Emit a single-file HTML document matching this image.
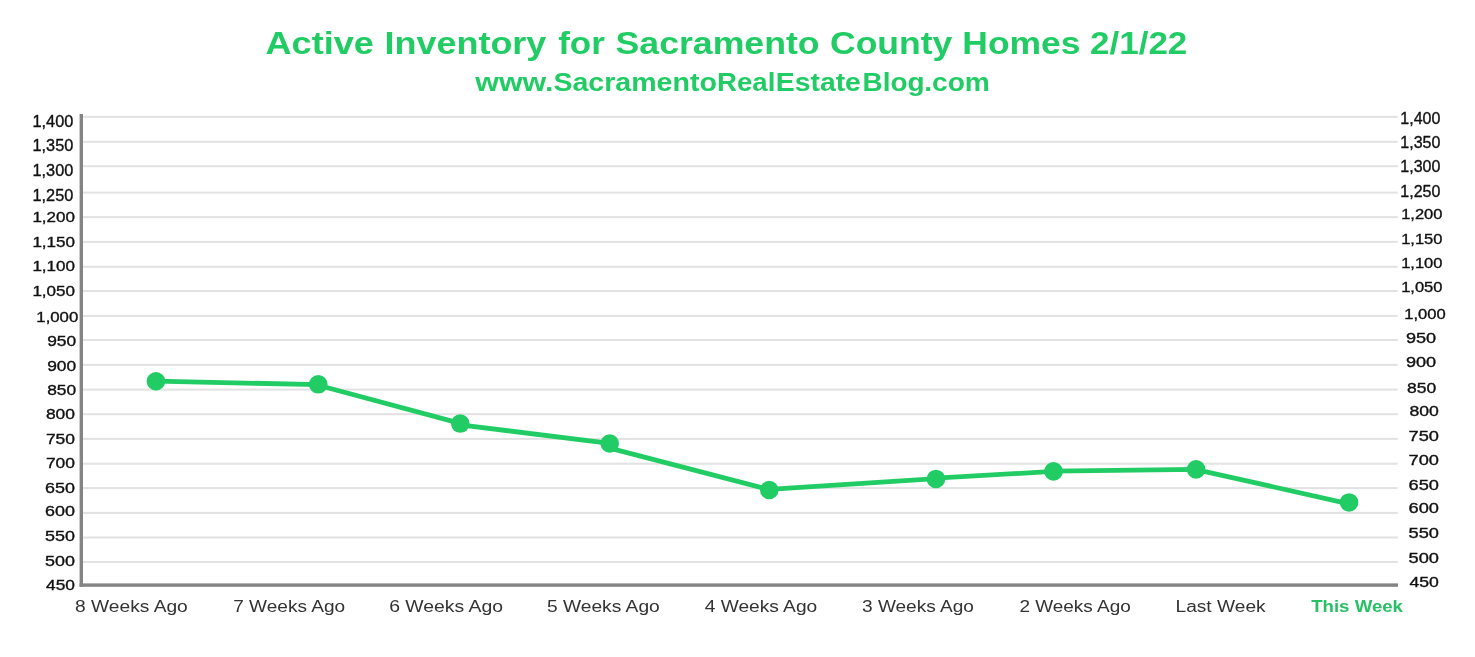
<!DOCTYPE html>
<html><head><meta charset="utf-8"><title>Active Inventory for Sacramento County Homes 2/1/22</title>
<style>
html,body{margin:0;padding:0;background:#fff;}
body{width:1475px;height:657px;overflow:hidden;position:relative;font-family:"Liberation Sans",sans-serif;}
svg{position:absolute;left:0;top:0;display:block;will-change:transform;}
text{font-family:"Liberation Sans",sans-serif;}
</style></head><body>
<svg width="1475" height="657" viewBox="0 0 1475 657">
<rect x="0" y="0" width="1475" height="657" fill="#fff"/>
<rect x="83" y="115.90" width="1314.70" height="2" fill="#e2e2e2"/>
<rect x="83" y="140.80" width="1314.70" height="2" fill="#e2e2e2"/>
<rect x="83" y="165.20" width="1314.70" height="2" fill="#e2e2e2"/>
<rect x="83" y="191.60" width="1314.70" height="2" fill="#e2e2e2"/>
<rect x="83" y="216.10" width="1314.70" height="2" fill="#e2e2e2"/>
<rect x="83" y="240.90" width="1314.70" height="2" fill="#e2e2e2"/>
<rect x="83" y="265.80" width="1314.70" height="2" fill="#e2e2e2"/>
<rect x="83" y="290.00" width="1314.70" height="2" fill="#e2e2e2"/>
<rect x="83" y="314.90" width="1314.70" height="2" fill="#e2e2e2"/>
<rect x="83" y="339.00" width="1314.70" height="2" fill="#e2e2e2"/>
<rect x="83" y="363.90" width="1314.70" height="2" fill="#e2e2e2"/>
<rect x="83" y="388.60" width="1314.70" height="2" fill="#e2e2e2"/>
<rect x="83" y="413.20" width="1314.70" height="2" fill="#e2e2e2"/>
<rect x="83" y="437.90" width="1314.70" height="2" fill="#e2e2e2"/>
<rect x="83" y="462.70" width="1314.70" height="2" fill="#e2e2e2"/>
<rect x="83" y="487.10" width="1314.70" height="2" fill="#e2e2e2"/>
<rect x="83" y="511.90" width="1314.70" height="2" fill="#e2e2e2"/>
<rect x="83" y="536.50" width="1314.70" height="2" fill="#e2e2e2"/>
<rect x="83" y="561.00" width="1314.70" height="2" fill="#e2e2e2"/>
<rect x="79.6" y="114" width="3.4" height="472.80" fill="#848484"/>
<rect x="79.6" y="583.40" width="1318.40" height="3.4" fill="#848484"/>
<path d="M155.95,381.15 L318.25,384.60 M318.25,385.20 L460.25,423.40 M460.25,424.90 L609.70,443.30 M609.70,448.10 L769.25,489.60 M769.25,489.30 L935.95,478.70 M935.95,478.10 L1053.50,471.40 M1053.50,471.20 L1196.10,469.40 M1196.10,469.60 L1349.05,503.80" fill="none" stroke="#22cc64" stroke-width="4.8" stroke-linecap="round"/>
<circle cx="155.95" cy="381.25" r="9.3" fill="#22cc64"/>
<circle cx="318.25" cy="384.30" r="9.3" fill="#22cc64"/>
<circle cx="460.25" cy="423.55" r="9.3" fill="#22cc64"/>
<circle cx="609.70" cy="443.50" r="9.3" fill="#22cc64"/>
<circle cx="769.25" cy="490.00" r="9.3" fill="#22cc64"/>
<circle cx="935.95" cy="478.95" r="9.3" fill="#22cc64"/>
<circle cx="1053.50" cy="471.40" r="9.3" fill="#22cc64"/>
<circle cx="1196.10" cy="469.40" r="9.3" fill="#22cc64"/>
<circle cx="1349.05" cy="502.45" r="9.3" fill="#22cc64"/>
<text x="265.50" y="53.70" font-size="31.8" font-weight="bold" fill="#22cc64" textLength="108.40" lengthAdjust="spacingAndGlyphs">Active</text>
<text x="384.60" y="53.70" font-size="31.8" font-weight="bold" fill="#22cc64" textLength="161.70" lengthAdjust="spacingAndGlyphs">Inventory</text>
<text x="558.20" y="53.70" font-size="31.8" font-weight="bold" fill="#22cc64" textLength="46.70" lengthAdjust="spacingAndGlyphs">for</text>
<text x="615.60" y="53.70" font-size="31.8" font-weight="bold" fill="#22cc64" textLength="204.00" lengthAdjust="spacingAndGlyphs">Sacramento</text>
<text x="830.00" y="53.70" font-size="31.8" font-weight="bold" fill="#22cc64" textLength="122.40" lengthAdjust="spacingAndGlyphs">County</text>
<text x="962.30" y="53.70" font-size="31.8" font-weight="bold" fill="#22cc64" textLength="118.20" lengthAdjust="spacingAndGlyphs">Homes</text>
<text x="1090.10" y="53.70" font-size="31.8" font-weight="bold" fill="#22cc64" textLength="97.20" lengthAdjust="spacingAndGlyphs">2/1/22</text>
<text x="475.30" y="90.80" font-size="25.3" font-weight="bold" fill="#22cc64" textLength="78.20" lengthAdjust="spacingAndGlyphs">www.</text>
<text x="553.40" y="90.80" font-size="25.3" font-weight="bold" fill="#22cc64" textLength="163.50" lengthAdjust="spacingAndGlyphs">Sacramento</text>
<text x="717.10" y="90.80" font-size="25.3" font-weight="bold" fill="#22cc64" textLength="58.30" lengthAdjust="spacingAndGlyphs">Real</text>
<text x="775.80" y="90.80" font-size="25.3" font-weight="bold" fill="#22cc64" textLength="85.10" lengthAdjust="spacingAndGlyphs">Estate</text>
<text x="862.60" y="90.80" font-size="25.3" font-weight="bold" fill="#22cc64" textLength="62.00" lengthAdjust="spacingAndGlyphs">Blog</text>
<text x="924.20" y="90.80" font-size="25.3" font-weight="bold" fill="#22cc64" textLength="65.70" lengthAdjust="spacingAndGlyphs">.com</text>
<text x="32.50" y="126.80" font-size="15.6" font-weight="normal" fill="#111" textLength="40.80" lengthAdjust="spacingAndGlyphs" stroke="#111" stroke-width="0.35">1,400</text>
<text x="1400.30" y="123.85" font-size="15.6" font-weight="normal" fill="#111" textLength="40.10" lengthAdjust="spacingAndGlyphs" stroke="#111" stroke-width="0.35">1,400</text>
<text x="32.50" y="150.80" font-size="15.6" font-weight="normal" fill="#111" textLength="40.80" lengthAdjust="spacingAndGlyphs" stroke="#111" stroke-width="0.35">1,350</text>
<text x="1400.30" y="147.50" font-size="15.6" font-weight="normal" fill="#111" textLength="40.10" lengthAdjust="spacingAndGlyphs" stroke="#111" stroke-width="0.35">1,350</text>
<text x="32.50" y="175.90" font-size="15.6" font-weight="normal" fill="#111" textLength="40.80" lengthAdjust="spacingAndGlyphs" stroke="#111" stroke-width="0.35">1,300</text>
<text x="1400.30" y="172.30" font-size="15.6" font-weight="normal" fill="#111" textLength="40.10" lengthAdjust="spacingAndGlyphs" stroke="#111" stroke-width="0.35">1,300</text>
<text x="32.50" y="200.75" font-size="15.6" font-weight="normal" fill="#111" textLength="40.80" lengthAdjust="spacingAndGlyphs" stroke="#111" stroke-width="0.35">1,250</text>
<text x="1400.30" y="197.40" font-size="15.6" font-weight="normal" fill="#111" textLength="40.10" lengthAdjust="spacingAndGlyphs" stroke="#111" stroke-width="0.35">1,250</text>
<text x="32.40" y="221.60" font-size="14.5" font-weight="normal" fill="#111" textLength="42.60" lengthAdjust="spacingAndGlyphs" stroke="#111" stroke-width="0.35">1,200</text>
<text x="1401.20" y="218.70" font-size="14.5" font-weight="normal" fill="#111" textLength="41.30" lengthAdjust="spacingAndGlyphs" stroke="#111" stroke-width="0.35">1,200</text>
<text x="32.40" y="246.50" font-size="14.5" font-weight="normal" fill="#111" textLength="42.60" lengthAdjust="spacingAndGlyphs" stroke="#111" stroke-width="0.35">1,150</text>
<text x="1401.20" y="243.60" font-size="14.5" font-weight="normal" fill="#111" textLength="41.30" lengthAdjust="spacingAndGlyphs" stroke="#111" stroke-width="0.35">1,150</text>
<text x="32.40" y="270.90" font-size="14.5" font-weight="normal" fill="#111" textLength="42.60" lengthAdjust="spacingAndGlyphs" stroke="#111" stroke-width="0.35">1,100</text>
<text x="1401.20" y="267.80" font-size="14.5" font-weight="normal" fill="#111" textLength="41.30" lengthAdjust="spacingAndGlyphs" stroke="#111" stroke-width="0.35">1,100</text>
<text x="32.40" y="295.60" font-size="14.5" font-weight="normal" fill="#111" textLength="42.60" lengthAdjust="spacingAndGlyphs" stroke="#111" stroke-width="0.35">1,050</text>
<text x="1401.20" y="292.30" font-size="14.5" font-weight="normal" fill="#111" textLength="41.30" lengthAdjust="spacingAndGlyphs" stroke="#111" stroke-width="0.35">1,050</text>
<text x="36.30" y="321.90" font-size="14.5" font-weight="normal" fill="#111" textLength="42.00" lengthAdjust="spacingAndGlyphs" stroke="#111" stroke-width="0.35">1,000</text>
<text x="1404.30" y="319.00" font-size="14.5" font-weight="normal" fill="#111" textLength="41.50" lengthAdjust="spacingAndGlyphs" stroke="#111" stroke-width="0.35">1,000</text>
<text x="47.20" y="345.90" font-size="14.5" font-weight="normal" fill="#111" textLength="29.00" lengthAdjust="spacingAndGlyphs" stroke="#111" stroke-width="0.35">950</text>
<text x="1406.00" y="342.70" font-size="14.5" font-weight="normal" fill="#111" textLength="30.20" lengthAdjust="spacingAndGlyphs" stroke="#111" stroke-width="0.35">950</text>
<text x="47.20" y="370.90" font-size="14.5" font-weight="normal" fill="#111" textLength="29.00" lengthAdjust="spacingAndGlyphs" stroke="#111" stroke-width="0.35">900</text>
<text x="1406.00" y="367.40" font-size="14.5" font-weight="normal" fill="#111" textLength="30.20" lengthAdjust="spacingAndGlyphs" stroke="#111" stroke-width="0.35">900</text>
<text x="47.20" y="395.40" font-size="14.5" font-weight="normal" fill="#111" textLength="29.00" lengthAdjust="spacingAndGlyphs" stroke="#111" stroke-width="0.35">850</text>
<text x="1407.00" y="392.80" font-size="14.5" font-weight="normal" fill="#111" textLength="29.20" lengthAdjust="spacingAndGlyphs" stroke="#111" stroke-width="0.35">850</text>
<text x="45.90" y="419.00" font-size="14.5" font-weight="normal" fill="#111" textLength="29.10" lengthAdjust="spacingAndGlyphs" stroke="#111" stroke-width="0.35">800</text>
<text x="1409.50" y="415.60" font-size="14.5" font-weight="normal" fill="#111" textLength="29.40" lengthAdjust="spacingAndGlyphs" stroke="#111" stroke-width="0.35">800</text>
<text x="45.90" y="443.80" font-size="14.5" font-weight="normal" fill="#111" textLength="29.10" lengthAdjust="spacingAndGlyphs" stroke="#111" stroke-width="0.35">750</text>
<text x="1408.50" y="440.70" font-size="14.5" font-weight="normal" fill="#111" textLength="30.40" lengthAdjust="spacingAndGlyphs" stroke="#111" stroke-width="0.35">750</text>
<text x="45.90" y="468.00" font-size="14.5" font-weight="normal" fill="#111" textLength="29.10" lengthAdjust="spacingAndGlyphs" stroke="#111" stroke-width="0.35">700</text>
<text x="1408.50" y="465.00" font-size="14.5" font-weight="normal" fill="#111" textLength="30.40" lengthAdjust="spacingAndGlyphs" stroke="#111" stroke-width="0.35">700</text>
<text x="45.10" y="492.60" font-size="14.5" font-weight="normal" fill="#111" textLength="29.90" lengthAdjust="spacingAndGlyphs" stroke="#111" stroke-width="0.35">650</text>
<text x="1408.50" y="489.50" font-size="14.5" font-weight="normal" fill="#111" textLength="30.40" lengthAdjust="spacingAndGlyphs" stroke="#111" stroke-width="0.35">650</text>
<text x="45.10" y="515.60" font-size="14.5" font-weight="normal" fill="#111" textLength="29.90" lengthAdjust="spacingAndGlyphs" stroke="#111" stroke-width="0.35">600</text>
<text x="1408.50" y="512.50" font-size="14.5" font-weight="normal" fill="#111" textLength="30.40" lengthAdjust="spacingAndGlyphs" stroke="#111" stroke-width="0.35">600</text>
<text x="45.10" y="540.50" font-size="14.5" font-weight="normal" fill="#111" textLength="29.90" lengthAdjust="spacingAndGlyphs" stroke="#111" stroke-width="0.35">550</text>
<text x="1408.50" y="537.80" font-size="14.5" font-weight="normal" fill="#111" textLength="30.40" lengthAdjust="spacingAndGlyphs" stroke="#111" stroke-width="0.35">550</text>
<text x="45.10" y="565.70" font-size="14.5" font-weight="normal" fill="#111" textLength="29.90" lengthAdjust="spacingAndGlyphs" stroke="#111" stroke-width="0.35">500</text>
<text x="1408.50" y="562.70" font-size="14.5" font-weight="normal" fill="#111" textLength="30.40" lengthAdjust="spacingAndGlyphs" stroke="#111" stroke-width="0.35">500</text>
<text x="46.10" y="589.80" font-size="14.5" font-weight="normal" fill="#111" textLength="28.90" lengthAdjust="spacingAndGlyphs" stroke="#111" stroke-width="0.35">450</text>
<text x="1409.50" y="586.90" font-size="14.5" font-weight="normal" fill="#111" textLength="29.40" lengthAdjust="spacingAndGlyphs" stroke="#111" stroke-width="0.35">450</text>
<text x="75.10" y="611.90" font-size="17.3" font-weight="normal" fill="#333" textLength="112.70" lengthAdjust="spacingAndGlyphs">8 Weeks Ago</text>
<text x="233.20" y="611.90" font-size="17.3" font-weight="normal" fill="#333" textLength="111.90" lengthAdjust="spacingAndGlyphs">7 Weeks Ago</text>
<text x="389.20" y="611.90" font-size="17.3" font-weight="normal" fill="#333" textLength="113.90" lengthAdjust="spacingAndGlyphs">6 Weeks Ago</text>
<text x="546.90" y="611.90" font-size="17.3" font-weight="normal" fill="#333" textLength="112.90" lengthAdjust="spacingAndGlyphs">5 Weeks Ago</text>
<text x="704.70" y="611.90" font-size="17.3" font-weight="normal" fill="#333" textLength="112.50" lengthAdjust="spacingAndGlyphs">4 Weeks Ago</text>
<text x="862.00" y="611.90" font-size="17.3" font-weight="normal" fill="#333" textLength="111.90" lengthAdjust="spacingAndGlyphs">3 Weeks Ago</text>
<text x="1019.40" y="611.90" font-size="17.3" font-weight="normal" fill="#333" textLength="111.40" lengthAdjust="spacingAndGlyphs">2 Weeks Ago</text>
<text x="1175.50" y="611.90" font-size="17.3" font-weight="normal" fill="#333" textLength="90.10" lengthAdjust="spacingAndGlyphs">Last Week</text>
<text x="1311.20" y="611.90" font-size="17.3" font-weight="bold" fill="#27c065" textLength="91.80" lengthAdjust="spacingAndGlyphs">This Week</text>
</svg>
</body></html>
